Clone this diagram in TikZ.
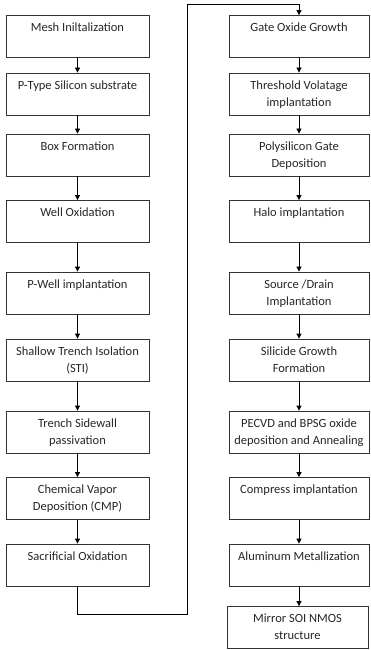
\documentclass[tikz,border=0pt]{standalone}
\usepackage{fontspec}
\setmainfont{Carlito}
\usetikzlibrary{arrows.meta}
\begin{document}
\begin{tikzpicture}[x=1pt,y=-1pt,
  box/.style={draw=black!80,line width=0.8pt,minimum height=42pt,inner sep=0pt},
  lbox/.style={box,minimum width=143pt},
  rbox/.style={box,minimum width=140pt},
  txt/.style={anchor=north,inner sep=0pt,align=center,font={\fontsize{12.5}{17}\selectfont},text=black!85},
  arr/.style={draw=black,line width=0.8pt,-{Triangle[length=5pt,width=5pt]}}
]
\useasboundingbox (0,0) rectangle (370,650);
% left column
\node[lbox] (l1) at (77.5,36.5) {};
\node[lbox] (l2) at (77.5,94) {};
\node[lbox] (l3) at (77.5,155) {};
\node[lbox] (l4) at (77.5,221.5) {};
\node[lbox] (l5) at (77.5,293) {};
\node[lbox] (l6) at (77.5,360) {};
\node[lbox] (l7) at (77.5,432) {};
\node[lbox] (l8) at (77.5,498.5) {};
\node[lbox] (l9) at (77.5,565) {};
% right column
\node[rbox] (r1) at (299,36.5) {};
\node[rbox] (r2) at (299,94) {};
\node[rbox] (r3) at (299,155) {};
\node[rbox] (r4) at (299,221.5) {};
\node[rbox] (r5) at (299,293) {};
\node[rbox] (r6) at (299,360) {};
\node[rbox] (r7) at (299,432) {};
\node[rbox] (r8) at (299,498.5) {};
\node[rbox] (r9) at (299,565) {};
\node[rbox,minimum width=141pt] (r10) at (297.5,627.5) {};
% texts
\node[txt] (tl1) at ([yshift=-8]l1.north) {Mesh Iniltalization};
\node[txt] (tl2) at ([yshift=-8]l2.north) {P-Type Silicon substrate};
\node[txt] (tl3) at ([yshift=-8]l3.north) {Box Formation};
\node[txt] (tl4) at ([yshift=-8]l4.north) {Well Oxidation};
\node[txt] (tl5) at ([yshift=-8]l5.north) {P-Well implantation};
\node[txt] (tl6) at ([yshift=-8]l6.north) {Shallow Trench Isolation\\(STI)};
\node[txt] (tl7) at ([yshift=-8]l7.north) {Trench Sidewall\\passivation};
\node[txt] (tl8) at ([yshift=-8]l8.north) {Chemical Vapor\\Deposition (CMP)};
\node[txt] (tl9) at ([yshift=-8]l9.north) {Sacrificial Oxidation};
\node[txt] (tr1) at ([yshift=-8]r1.north) {Gate Oxide Growth};
\node[txt] (tr2) at ([yshift=-8]r2.north) {Threshold Volatage\\implantation};
\node[txt] (tr3) at ([yshift=-8]r3.north) {Polysilicon Gate\\Deposition};
\node[txt] (tr4) at ([yshift=-8]r4.north) {Halo implantation};
\node[txt] (tr5) at ([yshift=-8]r5.north) {Source /Drain\\Implantation};
\node[txt] (tr6) at ([yshift=-8]r6.north) {Silicide Growth\\Formation};
\node[txt] (tr7) at ([yshift=-8]r7.north) {PECVD and BPSG oxide\\deposition and Annealing};
\node[txt] (tr8) at ([yshift=-8]r8.north) {Compress implantation};
\node[txt] (tr9) at ([yshift=-8]r9.north) {Aluminum Metallization};
\node[txt] (tr10) at ([yshift=-8]r10.north) {Mirror SOI NMOS\\structure};
% arrows
\foreach \a/\b in {l1/l2,l2/l3,l3/l4,l4/l5,l5/l6,l6/l7,l7/l8,l8/l9,r1/r2,r2/r3,r3/r4,r4/r5,r5/r6,r6/r7,r7/r8,r8/r9}
  \draw[arr] (\a.south) -- (\b.north);
\draw[arr] (r9.south) -- (r9.south |- r10.north);
% loop connector
\coordinate (c1) at (77.5,614);
\coordinate (c2) at (187,614);
\coordinate (c3) at (187,4);
\coordinate (c4) at (299,4);
\draw[arr] (l9.south) -- (c1) -- (c2) -- (c3) -- (c4) -- (r1.north);
\end{tikzpicture}
\end{document}
